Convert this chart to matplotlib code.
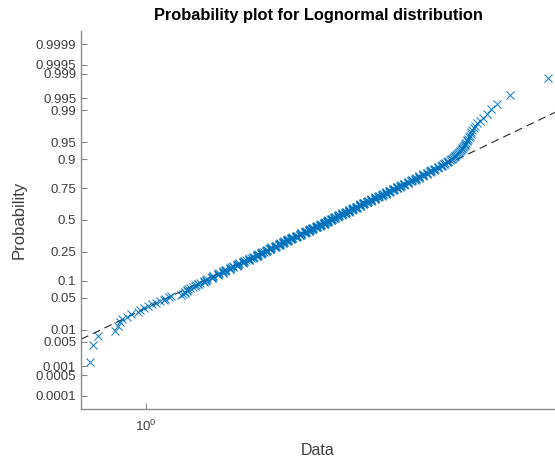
import numpy as np
import matplotlib
matplotlib.use("Agg")
import matplotlib.pyplot as plt
from matplotlib.ticker import FixedLocator, FixedFormatter, NullLocator
from statistics import NormalDist

plt.rcParams["font.family"] = ["Liberation Sans", "DejaVu Sans"]

# sorted sample, n = 365
data = [
    0.76, 0.77, 0.79, 0.86, 0.87, 0.88, 0.89, 0.91, 0.93, 0.96,
    0.97, 0.99, 1.01, 1.03, 1.05, 1.07, 1.09, 1.10, 1.12, 1.13,
    1.19, 1.20, 1.21, 1.21, 1.22, 1.22, 1.23, 1.24, 1.26, 1.27,
    1.28, 1.29, 1.29, 1.30, 1.33, 1.33, 1.34, 1.34, 1.35, 1.38,
    1.38, 1.38, 1.39, 1.39, 1.42, 1.42, 1.42, 1.43, 1.46, 1.46,
    1.46, 1.47, 1.47, 1.48, 1.51, 1.51, 1.51, 1.52, 1.53, 1.53,
    1.56, 1.56, 1.56, 1.57, 1.57, 1.58, 1.61, 1.61, 1.61, 1.62,
    1.62, 1.63, 1.66, 1.66, 1.66, 1.66, 1.67, 1.69, 1.69, 1.70,
    1.72, 1.72, 1.72, 1.72, 1.73, 1.73, 1.76, 1.76, 1.76, 1.77,
    1.77, 1.78, 1.80, 1.80, 1.80, 1.81, 1.81, 1.84, 1.84, 1.84,
    1.84, 1.85, 1.85, 1.88, 1.88, 1.88, 1.89, 1.89, 1.92, 1.92,
    1.92, 1.93, 1.93, 1.93, 1.96, 1.96, 1.96, 1.97, 1.97, 2.00,
    2.00, 2.00, 2.00, 2.01, 2.01, 2.04, 2.04, 2.04, 2.05, 2.05,
    2.05, 2.09, 2.09, 2.09, 2.10, 2.10, 2.13, 2.13, 2.13, 2.14,
    2.14, 2.14, 2.14, 2.18, 2.18, 2.18, 2.19, 2.19, 2.22, 2.22,
    2.22, 2.22, 2.23, 2.23, 2.26, 2.26, 2.26, 2.27, 2.27, 2.30,
    2.30, 2.30, 2.31, 2.31, 2.31, 2.35, 2.35, 2.35, 2.36, 2.36,
    2.39, 2.39, 2.39, 2.39, 2.40, 2.40, 2.43, 2.43, 2.43, 2.44,
    2.44, 2.44, 2.48, 2.48, 2.48, 2.49, 2.49, 2.52, 2.52, 2.52,
    2.53, 2.53, 2.56, 2.56, 2.56, 2.56, 2.57, 2.57, 2.61, 2.61,
    2.61, 2.62, 2.62, 2.65, 2.65, 2.65, 2.66, 2.66, 2.70, 2.70,
    2.70, 2.70, 2.71, 2.71, 2.75, 2.75, 2.75, 2.76, 2.76, 2.80,
    2.80, 2.80, 2.81, 2.81, 2.85, 2.85, 2.85, 2.85, 2.86, 2.86,
    2.90, 2.90, 2.90, 2.91, 2.91, 2.96, 2.96, 2.96, 2.97, 2.97,
    3.01, 3.01, 3.01, 3.02, 3.02, 3.07, 3.07, 3.07, 3.08, 3.08,
    3.12, 3.12, 3.13, 3.13, 3.18, 3.18, 3.18, 3.19, 3.19, 3.24,
    3.24, 3.24, 3.25, 3.25, 3.30, 3.30, 3.31, 3.31, 3.36, 3.36,
    3.36, 3.37, 3.37, 3.42, 3.42, 3.43, 3.43, 3.48, 3.48, 3.49,
    3.49, 3.54, 3.54, 3.55, 3.55, 3.61, 3.61, 3.62, 3.62, 3.67,
    3.67, 3.68, 3.68, 3.74, 3.74, 3.75, 3.75, 3.81, 3.81, 3.82,
    3.82, 3.88, 3.88, 3.89, 3.89, 3.96, 3.96, 3.97, 4.03, 4.03,
    4.04, 4.04, 4.11, 4.11, 4.12, 4.18, 4.18, 4.19, 4.25, 4.26,
    4.26, 4.32, 4.32, 4.33, 4.38, 4.39, 4.39, 4.45, 4.46, 4.48,
    4.51, 4.53, 4.55, 4.56, 4.58, 4.60, 4.62, 4.64, 4.66, 4.68,
    4.70, 4.71, 4.73, 4.75, 4.77, 4.78, 4.80, 4.82, 4.83, 4.85,
    4.87, 4.89, 4.91, 4.93, 4.95, 4.99, 5.03, 5.08, 5.14, 5.22,
    5.32, 5.42, 5.60, 5.95, 7.19,
]

prob_ticks = [0.0001, 0.0005, 0.001, 0.005, 0.01, 0.05, 0.1, 0.25, 0.5,
              0.75, 0.9, 0.95, 0.99, 0.995, 0.999, 0.9995, 0.9999]
prob_labels = ["0.0001", "0.0005", "0.001", "0.005", "0.01", "0.05", "0.1",
               "0.25", "0.5", "0.75", "0.9", "0.95", "0.99", "0.995",
               "0.999", "0.9995", "0.9999"]

nd = NormalDist()
x = np.sort(np.array(data))
n = len(x)
pp = (np.arange(1, n + 1) - 0.5) / n
z = np.array([nd.inv_cdf(p) for p in pp])

# reference line through the quartiles (log scale)
q1, q3 = np.percentile(np.log(x), [25, 75])
z1, z3 = nd.inv_cdf(0.25), nd.inv_cdf(0.75)
slope = (z3 - z1) / (q3 - q1)

xlim = (0.727, 7.43)
xl = np.array(xlim)
zl = z1 + slope * (np.log(xl) - q1)

fig = plt.figure(figsize=(5.55, 4.58), dpi=100)
ax = fig.add_axes([81 / 555, 49 / 458, 474 / 555, 378 / 458])

ax.plot(xl, zl, color="#262626", lw=0.8, ls=(0, (7.2, 4.5)))
ax.plot(x, z, "x", color="#0072BD", ms=6, mew=0.75, alpha=0.9)

ax.set_xscale("log")
ax.set_xlim(xlim)
ax.set_ylim(-4.0, 4.0)

ax.xaxis.set_major_locator(FixedLocator([1.0]))
ax.xaxis.set_major_formatter(FixedFormatter([r"$\mathregular{10^{0}}$"]))
ax.xaxis.set_minor_locator(NullLocator())
ax.yaxis.set_major_locator(FixedLocator([nd.inv_cdf(p) for p in prob_ticks]))
ax.yaxis.set_major_formatter(FixedFormatter(prob_labels))

for s in ["top", "right"]:
    ax.spines[s].set_visible(False)
for s in ["left", "bottom"]:
    ax.spines[s].set_color("#8a8a8a")
    ax.spines[s].set_linewidth(1.0)

ax.tick_params(axis="both", direction="in", length=4, width=0.8,
               color="#8a8a8a", labelcolor="#404040", labelsize=9.5)
ax.tick_params(axis="y", pad=3.5)
ax.tick_params(axis="x", pad=7)

ax.set_title("Probability plot for Lognormal distribution",
             fontsize=11.8, fontweight="bold", pad=8)
ax.set_xlabel("Data", fontsize=11.5, color="#404040")
ax.set_ylabel("Probability", fontsize=12, color="#404040")
ax.xaxis.set_label_coords(0.5, -0.09)
ax.yaxis.set_label_coords(-54 / 474, 0.5)

fig.savefig("out.png", dpi=100)
